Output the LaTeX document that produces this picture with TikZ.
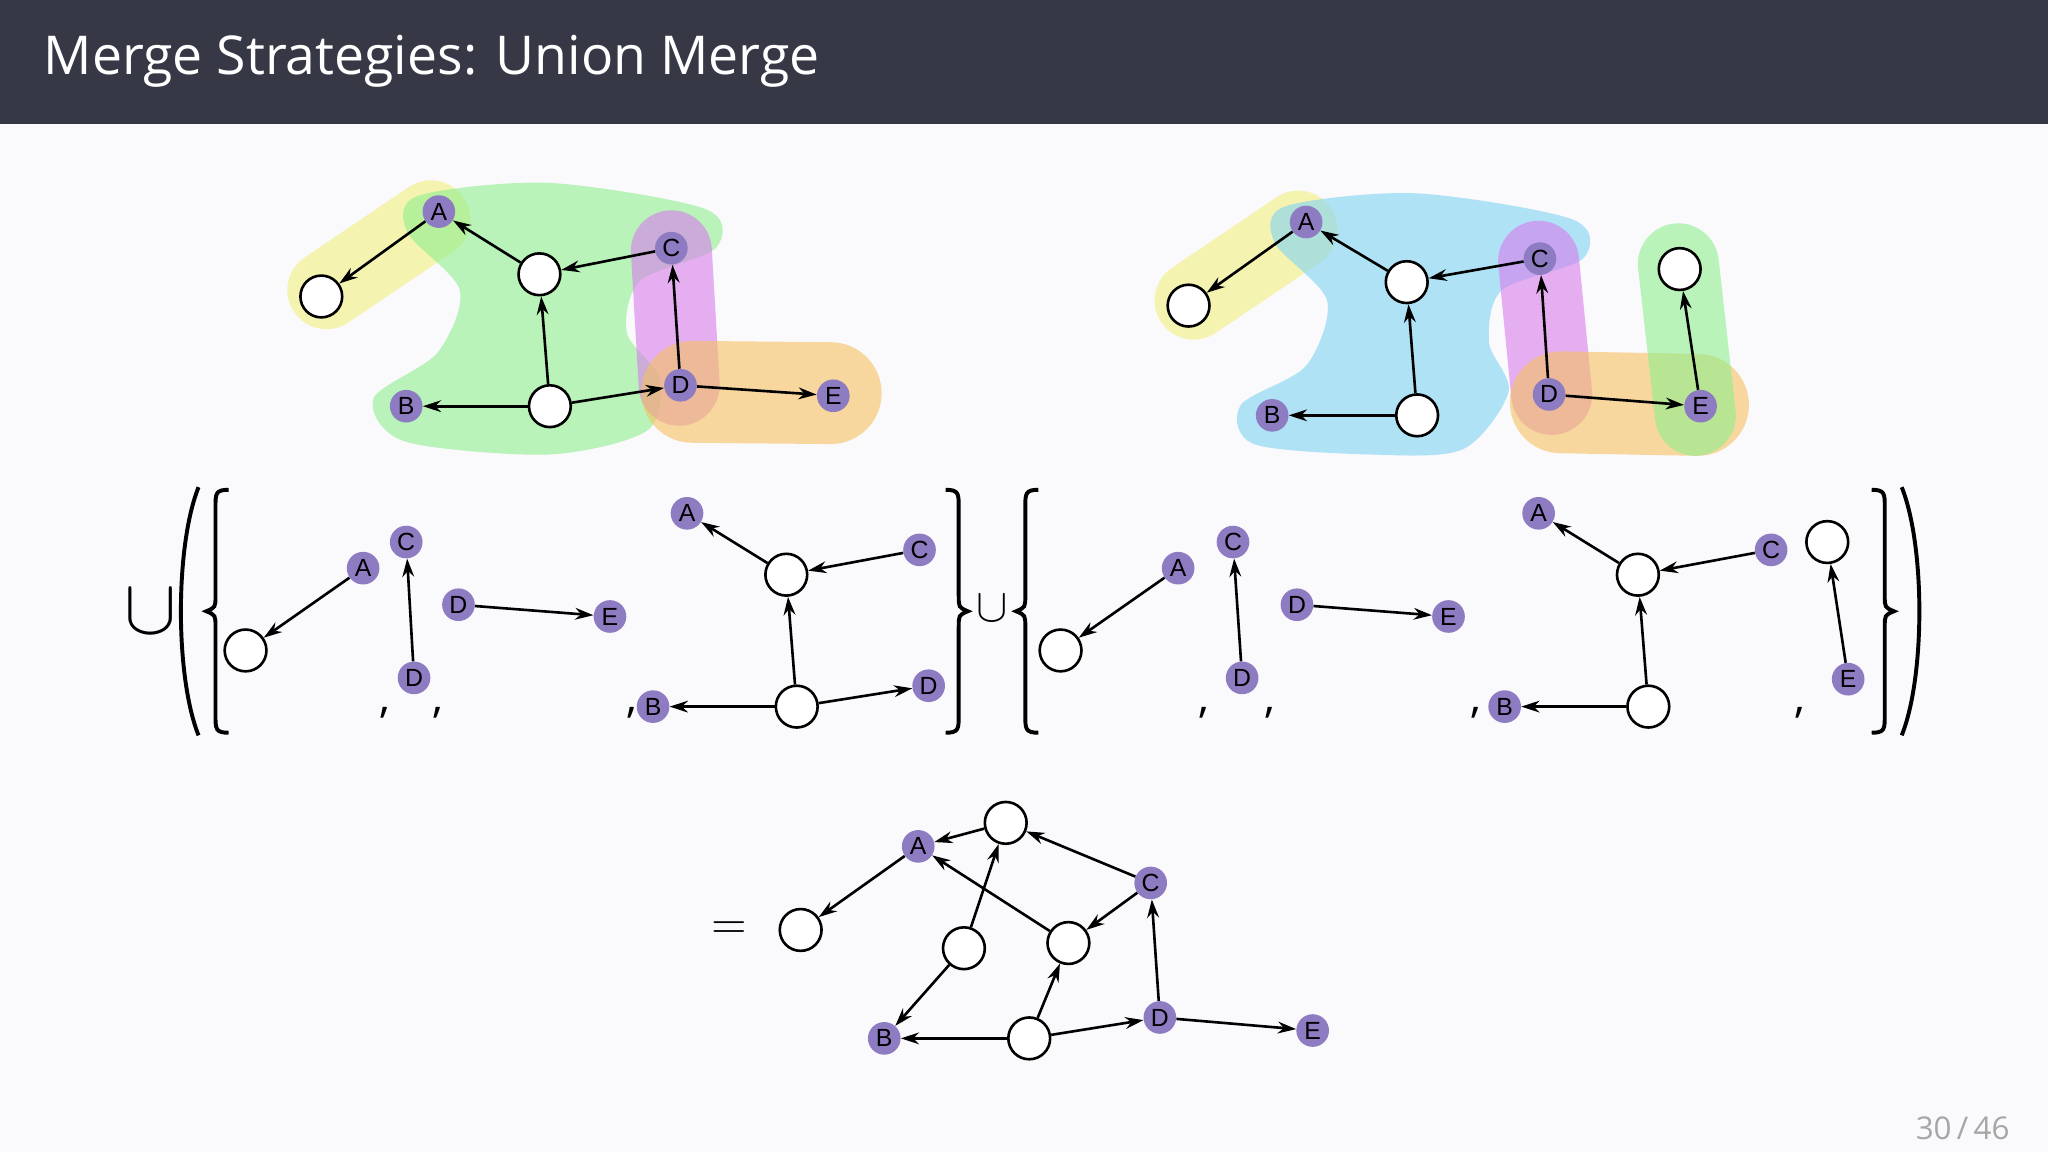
\documentclass[tikz,border=0pt]{standalone}
\usepackage{fontspec}
\usepackage{graphicx}
\setmainfont{Open Sans}
\newfontfamily\lab{Liberation Sans}
\usetikzlibrary{arrows.meta}
\definecolor{bar}{HTML}{363846}
\definecolor{pur}{HTML}{8E7CC3}
\definecolor{bgc}{HTML}{FAF9FC}
\definecolor{by}{HTML}{F2EF7E}
\definecolor{bg}{HTML}{8EEF8E}
\definecolor{bp}{HTML}{D77CEB}
\definecolor{bo}{HTML}{F5C15F}
\definecolor{bb}{HTML}{7FD3F3}
\newcommand\mybrc[2]{\begin{scope}[shift={(#1,468)},xscale=#2]
 \draw[delim] (8,-93) .. controls (-2,-93) and (-2,-90) .. (-2,-80) -- (-2,-12) .. controls (-2,-3) .. (-9,0) .. controls (-2,3) .. (-2,12) -- (-2,80) .. controls (-2,90) and (-2,93) .. (8,93);
\end{scope}}
\newcommand\mypar[2]{\begin{scope}[shift={(#1,468)},xscale=#2]
 \draw[delim] (6,-95) .. controls (-12,-50) and (-12,50) .. (6,95);
\end{scope}}
\tikzset{
 pn/.style={circle,fill=pur,inner sep=0pt,minimum size=25pt,font=\lab\fontsize{19}{19}\selectfont},
 en/.style={circle,draw=black,line width=2pt,fill=white,inner sep=0pt,minimum size=32pt},
 ar/.style={-{Stealth[length=14pt,width=9pt]},line width=2pt},
 blob/.style={line cap=round,line join=round,opacity=.6},
 delim/.style={line width=3pt},
 commanode/.style={font=\fontsize{34}{34}\selectfont}
}
\begin{document}
\begin{tikzpicture}[x=1pt,y=-1pt]
\fill[bgc] (0,0) rectangle (1568,882);
\fill[bar] (0,0) rectangle (1568,95);
\node[anchor=west,text=white,font=\fontsize{41}{41}\selectfont] (title) at (30,47) {Merge Strategies: Union Merge};
\node[anchor=east,text=gray!70,font=\fontsize{24}{24}\selectfont] (pg) at (1542,864) {30\,/\,46};
% ---- top left blobs
\draw[blob,by,line width=60pt] (330,168)--(250,222);
\fill[blob,bg] plot[smooth cycle] coordinates {(320,150) (420,140) (540,160) (548,190) (490,215) (480,255) (505,290) (495,330) (420,348) (310,338) (286,305) (335,270) (352,222) (312,178)};
\draw[blob,bp,line width=62pt] (514,192)--(520,295);
\draw[blob,bo,line width=78pt] (530,300)--(636,301);
% ---- top right blobs
\draw[blob,by,line width=60pt] (994,176)--(914,230);
\fill[blob,bb] plot[smooth cycle] coordinates {(984,158) (1084,148) (1204,168) (1212,198) (1150,222) (1140,262) (1155,300) (1120,344) (1050,348) (960,340) (950,310) (1000,280) (1016,230) (976,186)};
\draw[blob,bp,line width=62pt] (1178,200)--(1188,302);
\draw[blob,bo,line width=78pt] (1195,308)--(1300,310);
\draw[blob,bg,line width=62pt] (1285,202)--(1298,318);
% ---- top left graph
\node[pn] (a1) at (336,162) {A};
\node[en] (x1) at (246,227) {};
\node[en] (c1) at (413,210) {};
\node[pn] (cc1) at (514,190) {C};
\node[pn] (b1) at (311,311) {B};
\node[en] (bt1) at (421,311) {};
\node[pn] (d1) at (521,295) {D};
\node[pn] (e1) at (638,303) {E};
\draw[ar] (c1)--(a1); \draw[ar] (a1)--(x1); \draw[ar] (cc1)--(c1); \draw[ar] (bt1)--(c1);
\draw[ar] (bt1)--(b1); \draw[ar] (bt1)--(d1); \draw[ar] (d1)--(cc1); \draw[ar] (d1)--(e1);
% ---- top right graph
\node[pn] (a2) at (1000,170) {A};
\node[en] (x2) at (910,234) {};
\node[en] (c2) at (1077,216) {};
\node[pn] (cc2) at (1179,198) {C};
\node[pn] (b2) at (974,318) {B};
\node[en] (bt2) at (1085,318) {};
\node[pn] (d2) at (1186,302) {D};
\node[pn] (e2) at (1302,311) {E};
\node[en] (y2) at (1286,206) {};
\draw[ar] (c2)--(a2); \draw[ar] (a2)--(x2); \draw[ar] (cc2)--(c2); \draw[ar] (bt2)--(c2);
\draw[ar] (bt2)--(b2); \draw[ar] (d2)--(cc2); \draw[ar] (d2)--(e2); \draw[ar] (e2)--(y2);
% ---- middle row delimiters
\node (u0) at (115,468) {\scalebox{6}{$\cup$}};
\node (u1) at (760,466) {\scalebox{3.6}{$\cup$}};
\mypar{146}{1}
\mybrc{167}{1}
\mybrc{732}{-1}
\mybrc{787}{1}
\mybrc{1441}{-1}
\mypar{1462}{-1}
% commas
\foreach \n/\x in {k1/295,k2/335,k3/484,k4/922,k5/972,k6/1130,k7/1378}
  \node[commanode] (\n) at (\x,546) {,};
% ---- set 1
\node[en] (m1x) at (188,498) {}; \node[pn] (m1a) at (278,435) {A}; \draw[ar] (m1a)--(m1x);
\node[pn] (m1c) at (311,415) {C}; \node[pn] (m1d) at (317,519) {D}; \draw[ar] (m1d)--(m1c);
\node[pn] (m1d2) at (351,463) {D}; \node[pn] (m1e) at (467,472) {E}; \draw[ar] (m1d2)--(m1e);
\node[pn] (m1a2) at (526,393) {A}; \node[en] (m1ct) at (602,440) {}; \node[pn] (m1c2) at (704,421) {C};
\node[pn] (m1b) at (500,541) {B}; \node[en] (m1bt) at (610,541) {}; \node[pn] (m1d3) at (711,525) {D};
\draw[ar] (m1ct)--(m1a2); \draw[ar] (m1c2)--(m1ct); \draw[ar] (m1bt)--(m1ct); \draw[ar] (m1bt)--(m1b); \draw[ar] (m1bt)--(m1d3);
% ---- set 2
\node[en] (m2x) at (812,498) {}; \node[pn] (m2a) at (902,435) {A}; \draw[ar] (m2a)--(m2x);
\node[pn] (m2c) at (944,415) {C}; \node[pn] (m2d) at (951,519) {D}; \draw[ar] (m2d)--(m2c);
\node[pn] (m2d2) at (993,463) {D}; \node[pn] (m2e) at (1109,472) {E}; \draw[ar] (m2d2)--(m2e);
\node[pn] (m2a2) at (1178,393) {A}; \node[en] (m2ct) at (1254,440) {}; \node[pn] (m2c2) at (1356,421) {C};
\node[pn] (m2b) at (1152,541) {B}; \node[en] (m2bt) at (1262,541) {};
\draw[ar] (m2ct)--(m2a2); \draw[ar] (m2c2)--(m2ct); \draw[ar] (m2bt)--(m2ct); \draw[ar] (m2bt)--(m2b);
\node[en] (m2y) at (1399,415) {}; \node[pn] (m2e2) at (1415,520) {E}; \draw[ar] (m2e2)--(m2y);
% ---- result
\node (eq) at (558,712) {\scalebox{3.5}{$=$}};
\node[en] (rx) at (613,712) {};
\node[pn] (ra) at (703,648) {A};
\node[en] (rt) at (770,630) {};
\node[pn] (rc) at (881,676) {C};
\node[en] (rm1) at (738,726) {};
\node[en] (rm2) at (818,722) {};
\node[pn] (rb) at (677,795) {B};
\node[en] (rbt) at (788,795) {};
\node[pn] (rd) at (888,779) {D};
\node[pn] (re) at (1005,789) {E};
\draw[ar] (ra)--(rx); \draw[ar] (rt)--(ra); \draw[ar] (rc)--(rt); \draw[ar] (rm2)--(ra);
\draw[ar] (rm1)--(rt); \draw[ar] (rc)--(rm2); \draw[ar] (rd)--(rc); \draw[ar] (rm1)--(rb);
\draw[ar] (rbt)--(rm2); \draw[ar] (rbt)--(rb); \draw[ar] (rbt)--(rd); \draw[ar] (rd)--(re);
\end{tikzpicture}
\end{document}
